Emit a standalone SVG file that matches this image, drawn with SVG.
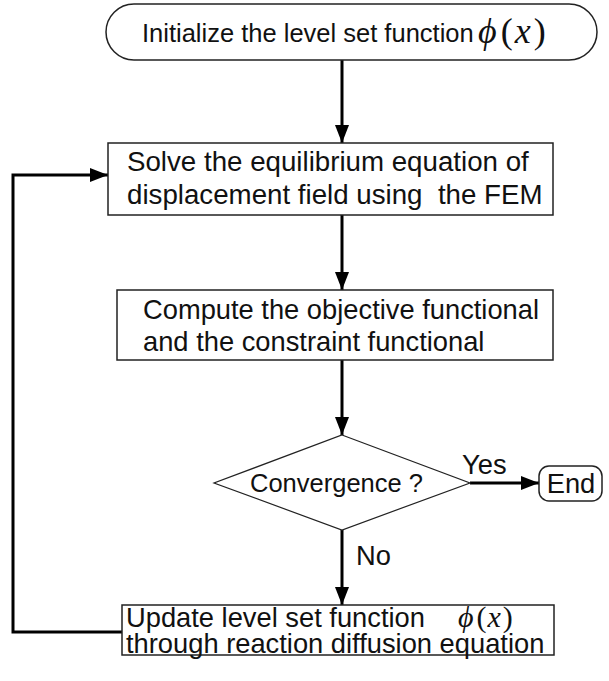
<svg xmlns="http://www.w3.org/2000/svg" width="609" height="681" viewBox="0 0 609 681">
<style>
.box{fill:#fff;stroke:#222;stroke-width:1.5}
.dia{fill:#fff;stroke:#222;stroke-width:1.2}
.t{font-family:"Liberation Sans",Arial,sans-serif;font-size:27.3px;fill:#111}
.m{font-family:"Liberation Serif","DejaVu Serif",serif;fill:#111}
.e{stroke:#000;stroke-width:3;fill:none}
</style>
<defs>
<marker id="ah" viewBox="0 0 18 14" refX="18" refY="7" markerWidth="18" markerHeight="14" markerUnits="userSpaceOnUse" orient="auto">
<path d="M0,0 L18,7 L0,14 Z" fill="#000"/>
</marker>
</defs>
<g id="connectors">
<line class="e" x1="342" y1="60" x2="342" y2="143" marker-end="url(#ah)"/>
<line class="e" x1="342" y1="215" x2="342" y2="290" marker-end="url(#ah)"/>
<line class="e" x1="342" y1="360" x2="342" y2="435" marker-end="url(#ah)"/>
<line class="e" x1="470" y1="483" x2="539" y2="483" marker-end="url(#ah)"/>
<line class="e" x1="342" y1="530" x2="342" y2="605" marker-end="url(#ah)"/>
<polyline class="e" points="122,632 13,632 13,175 108,175" marker-end="url(#ah)"/>
<text class="t" x="462" y="474">Yes</text>
<text class="t" x="356" y="565">No</text>
</g>
<g id="init">
<rect class="box" x="106" y="4" width="491" height="56" rx="28" ry="28"/>
<text class="t" x="142" y="42" style="font-size:25.5px">Initialize the level set function</text>
<text class="m" x="478" y="43" style="font-size:36px"><tspan font-style="italic">ϕ</tspan><tspan dx="4">(</tspan><tspan font-style="italic" dx="2">x</tspan><tspan dx="3">)</tspan></text>
</g>
<g id="solve">
<rect class="box" x="108" y="143" width="445" height="72"/>
<text class="t" x="127" y="171" style="font-size:27.7px">Solve the equilibrium equation of</text>
<text class="t" x="127" y="204" style="font-size:27.7px" xml:space="preserve">displacement field using  the FEM</text>
</g>
<g id="compute">
<rect class="box" x="117" y="290" width="436" height="70"/>
<text class="t" x="143" y="319">Compute the objective functional</text>
<text class="t" x="143" y="351">and the constraint functional</text>
</g>
<g id="converge">
<polygon class="dia" points="342,435 470,483 342,530 214,483"/>
<text class="t" x="250" y="492" style="font-size:25.5px">Convergence ?</text>
</g>
<g id="end">
<rect class="box" x="539" y="466" width="63" height="35" rx="10" ry="10"/>
<text class="t" x="571" y="493" text-anchor="middle">End</text>
</g>
<g id="update">
<rect class="box" x="122" y="605" width="432" height="50"/>
<text class="t" x="126" y="627">Update level set function</text>
<text class="m" x="458" y="627" style="font-size:30px"><tspan font-style="italic">ϕ</tspan><tspan dx="3">(</tspan><tspan font-style="italic" dx="1">x</tspan><tspan dx="2">)</tspan></text>
<text class="t" x="126" y="653">through reaction diffusion equation</text>
</g>
</svg>
